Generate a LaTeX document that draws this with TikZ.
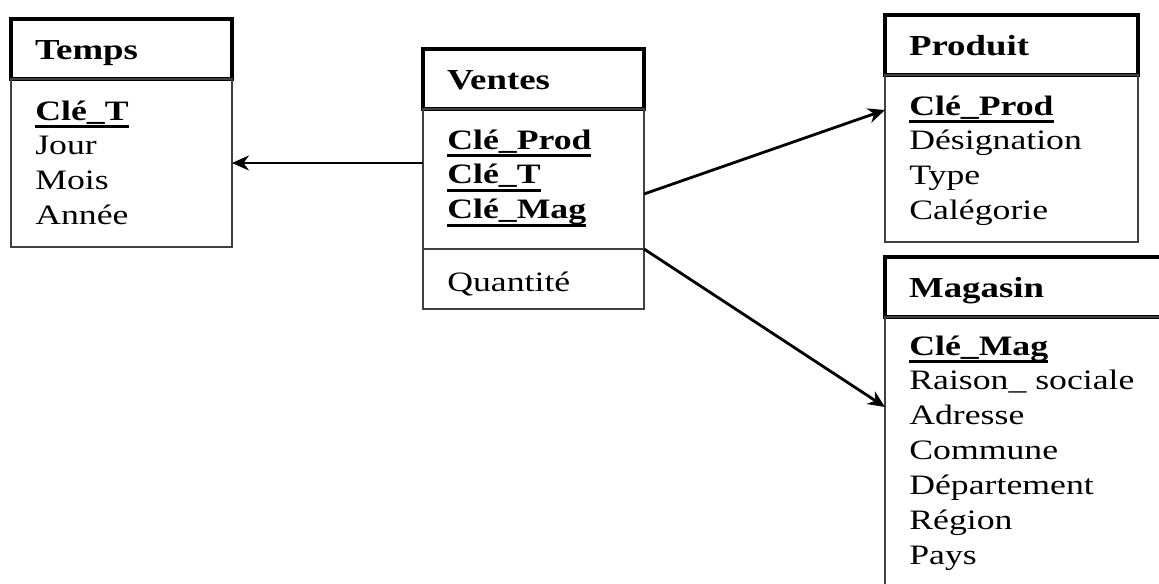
\documentclass[tikz,border=0pt]{standalone}
\usepackage{fontspec}
\setmainfont{Liberation Serif}[FakeStretch=1.27]
\usetikzlibrary{arrows.meta,positioning}

\newlength\keywd
\newcommand\keyattr[1]{\settowidth\keywd{\textbf{#1}}\textbf{#1}\llap{\rule[-4.6pt]{\keywd}{1.8pt}}}
\newcommand\fieldlist[1]{\begin{tabular}[t]{@{}l@{}}#1\end{tabular}}

\begin{document}
\begin{tikzpicture}[font=\fontsize{16}{19.9}\selectfont, >={Stealth[length=0.34cm,width=0.3cm]}]
\tikzstyle{hdr}=[draw, line width=2.4pt, anchor=north west, minimum height=1.2cm, inner xsep=0.48cm, inner ysep=0pt, text height=11.5pt, text depth=0pt, align=left, outer sep=0pt, font=\fontsize{16.5}{19.9}\selectfont\bfseries]
\tikzstyle{bdy}=[draw=black!75, line width=1.1pt, outer sep=0pt, inner sep=0pt]
\tikzstyle{fields}=[anchor=base west, inner sep=0pt]
\tikzstyle{arr}=[->, line width=1.6pt]
\useasboundingbox (0,0) rectangle (23.18,-11.66);
\clip (0,0) rectangle (23.18,-11.66);
% Temps
\node[hdr, text width=3.46cm] (temps) at (0.22,-0.38) {Temps};
\node[bdy, minimum width=4.42cm, minimum height=3.36cm, below=0pt of temps] (tempsb) {};
\node[fields] (tempsf) at ([xshift=0.48cm, yshift=-0.82cm]tempsb.north west) {\fieldlist{\keyattr{Clé\_T}\\Jour\\Mois\\Année}};
% Ventes
\node[hdr, text width=3.46cm] (ventes) at (8.46,-0.98) {Ventes};
\node[bdy, minimum width=4.42cm, minimum height=2.8cm, below=0pt of ventes] (vkeys) {};
\node[bdy, minimum width=4.42cm, minimum height=1.2cm, below=0pt of vkeys] (vmeas) {};
\node[fields] (ventesf) at ([xshift=0.48cm, yshift=-0.8cm]vkeys.north west) {\fieldlist{\keyattr{Clé\_Prod}\\\keyattr{Clé\_T}\\\keyattr{Clé\_Mag}}};
\node[fields] (quantf) at ([xshift=0.48cm, yshift=-0.84cm]vmeas.north west) {Quantité};
% Produit
\node[hdr, text width=4.10cm] (produit) at (17.70,-0.30) {Produit};
\node[bdy, minimum width=5.06cm, minimum height=3.34cm, below=0pt of produit] (produitb) {};
\node[fields] (produitf) at ([xshift=0.48cm, yshift=-0.8cm]produitb.north west) {\fieldlist{\keyattr{Clé\_Prod}\\Désignation\\Type\\Calégorie}};
% Magasin
\node[hdr, text width=4.94cm] (magasin) at (17.70,-5.14) {Magasin};
\node[bdy, minimum width=5.9cm, minimum height=6cm, below=0pt of magasin] (magasinb) {};
\node[fields] (magasinf) at ([xshift=0.48cm, yshift=-0.76cm]magasinb.north west) {\fieldlist{\keyattr{Clé\_Mag}\\Raison\_ sociale\\Adresse\\Commune\\Département\\Région\\Pays}};
% liens
\draw[arr] (vkeys.west |- tempsb.east) -- (tempsb.east);
\draw[arr] ([yshift=-0.3cm]vkeys.east) -- ([yshift=-0.7cm]produitb.north west);
\draw[arr] (vkeys.south east) -- ([yshift=-1.8cm]magasinb.north west);
\end{tikzpicture}
\end{document}
